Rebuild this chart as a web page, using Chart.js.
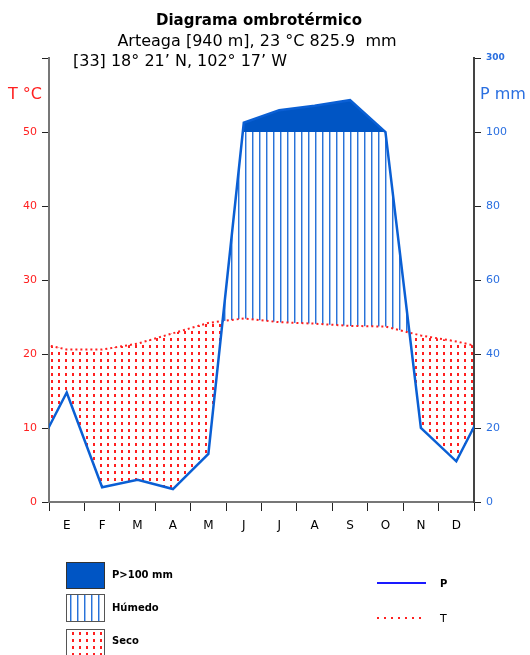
<!DOCTYPE html>
<html>
<head>
<meta charset="utf-8">
<script src="https://cdn.jsdelivr.net/npm/chart.js@4"></script>
<style>
  html, body { margin: 0; padding: 0; background: #fff; }
  canvas { display: block; }
</style>
</head>
<body>
<canvas id="canvas" width="530" height="655"></canvas>
<script>
const MONTHS = ['E', 'F', 'M', 'A', 'M', 'J', 'J', 'A', 'S', 'O', 'N', 'D'];
const TEMP = [20.6, 20.6, 21.4, 22.8, 24.2, 24.8, 24.3, 24.1, 23.8, 23.7, 22.5, 21.7];
const PREC = [29.6, 4.0, 6.0, 3.5, 13.0, 125.0, 159.0, 171.0, 186.0, 100.0, 20.0, 11.0];
const T_TICKS = [0, 10, 20, 30, 40, 50, 60];
const P_TICKS = [0, 20, 40, 60, 80, 100, 300];

const RED = '#ff2020';
const BLUE = '#0a5fd4';
const SOLID = '#0055c4';

// months are plotted at their centre; Dec is repeated before Jan and Jan after Dec
function wrapSeries(values) {
  const pts = values.map((v, i) => ({x: i + 0.5, y: v}));
  pts.unshift({x: -0.5, y: values[values.length - 1]});
  pts.push({x: values.length + 0.5, y: values[0]});
  return pts;
}

// above 100 mm the precipitation axis is compressed ten times
function squash(v) {
  return v <= 100 ? v : 100 + (v - 100) / 10;
}

class PrecipScale extends Chart.LinearScale {
  buildTicks() {
    return P_TICKS.map(v => ({value: v}));
  }
  getPixelForValue(value) {
    return this.getPixelForDecimal(squash(value) / squash(this.max));
  }
  getValueForPixel(pixel) {
    const s = this.getDecimalForPixel(pixel) * squash(this.max);
    return s <= 100 ? s : 100 + (s - 100) * 10;
  }
}
PrecipScale.id = 'precip';
Chart.register(PrecipScale);

function makeStripes() {
  const c = document.createElement('canvas');
  c.width = 7; c.height = 4;
  const g = c.getContext('2d');
  g.fillStyle = '#2a72d8';
  g.fillRect(0, 0, 1, 4);
  g.fillStyle = '#9cc0ee';
  g.fillRect(1, 0, 1, 4);
  return g.createPattern(c, 'repeat');
}

function makeDots() {
  const c = document.createElement('canvas');
  c.width = 7; c.height = 7;
  const g = c.getContext('2d');
  g.fillStyle = RED;
  g.fillRect(2, 2, 2, 3);
  return g.createPattern(c, 'repeat');
}

const stripes = makeStripes();
const dots = makeDots();

const textPlugin = {
  id: 'texts',
  afterDraw(chart) {
    const c = chart.ctx;
    c.save();
    c.textBaseline = 'middle';
    c.fillStyle = '#000';
    c.textAlign = 'center';
    c.font = 'bold 15px "DejaVu Sans"';
    c.fillText('Diagrama ombrotérmico', 259, 21);
    c.font = '16px "DejaVu Sans"';
    c.fillText('Arteaga [940 m], 23 °C 825.9  mm', 257, 42);
    c.textAlign = 'left';
    c.fillText('[33] 18° 21’ N, 102° 17’ W', 73, 62);

    c.fillStyle = RED;
    c.fillText('T °C', 8, 95);
    c.fillStyle = '#2a6fe0';
    c.fillText('P mm', 480, 95);

    // legend
    c.lineWidth = 1;
    c.strokeStyle = '#333';
    c.fillStyle = SOLID;
    c.fillRect(66.5, 562.5, 38, 26);
    c.strokeRect(66.5, 562.5, 38, 26);
    c.fillStyle = stripes;
    c.fillRect(66.5, 594.5, 38, 27);
    c.strokeStyle = '#555';
    c.strokeRect(66.5, 594.5, 38, 27);
    c.fillStyle = dots;
    c.fillRect(66.5, 629.5, 38, 27);
    c.strokeRect(66.5, 629.5, 38, 27);

    c.fillStyle = '#000';
    c.font = 'bold 10px "DejaVu Sans"';
    c.fillText('P>100 mm', 112, 575);
    c.fillText('Húmedo', 112, 608);
    c.fillText('Seco', 112, 641);

    c.strokeStyle = '#1a1aff';
    c.lineWidth = 2;
    c.beginPath();
    c.moveTo(377, 583);
    c.lineTo(426, 583);
    c.stroke();
    c.fillText('P', 440, 584);

    c.strokeStyle = RED;
    c.setLineDash([2, 5]);
    c.beginPath();
    c.moveTo(377, 618);
    c.lineTo(424, 618);
    c.stroke();
    c.font = '11px "DejaVu Sans"';
    c.fillText('T', 440, 619);
    c.restore();
  }
};

const config = {
  type: 'line',
  data: {
    datasets: [
      {
        label: 'P',
        data: wrapSeries(PREC),
        yAxisID: 'yP',
        borderColor: BLUE,
        borderWidth: 2.5,
        pointRadius: 0,
        tension: 0,
        fill: {target: {value: 100}, above: SOLID, below: 'rgba(0,0,0,0)'}
      },
      {
        label: 'T',
        data: wrapSeries(TEMP),
        yAxisID: 'yT',
        borderColor: RED,
        borderWidth: 2,
        borderDash: [2, 3],
        pointRadius: 0,
        tension: 0,
        fill: {target: 0, above: dots, below: stripes}
      }
    ]
  },
  options: {
    responsive: false,
    animation: false,
    devicePixelRatio: 1,
    layout: {
      padding: {top: 58, left: 0, right: 0, bottom: 0}
    },
    plugins: {
      legend: {display: false},
      tooltip: {enabled: false}
    },
    scales: {
      x: {
        type: 'linear',
        position: 'bottom',
        min: 0,
        max: 12,
        afterBuildTicks: function(scale) {
          scale.ticks = Array.from({length: 25}, (_, i) => ({value: i / 2}));
        },
        afterFit: function(scale) {
          scale.height = 153;
        },
        border: {color: '#777', width: 2},
        grid: {
          drawOnChartArea: false,
          tickLength: 9,
          tickColor: function(ctx) {
            return ctx.tick && Number.isInteger(ctx.tick.value) ? '#222' : 'rgba(0,0,0,0)';
          }
        },
        ticks: {
          autoSkip: false,
          maxRotation: 0,
          padding: 8,
          color: '#000',
          font: {family: 'DejaVu Sans', size: 12},
          callback: function(val) {
            return Number.isInteger(val) ? '' : MONTHS[Math.floor(val)];
          }
        }
      },
      yT: {
        type: 'linear',
        position: 'left',
        min: 0,
        max: 60,
        afterBuildTicks: function(scale) {
          scale.ticks = T_TICKS.map(v => ({value: v}));
        },
        afterFit: function(scale) {
          scale.width = 49;
        },
        border: {color: '#777', width: 2},
        grid: {drawOnChartArea: false, tickLength: 7, tickColor: '#222'},
        ticks: {
          color: RED,
          padding: 5,
          font: {family: 'DejaVu Sans', size: 11},
          callback: function(val) {
            return val === 60 ? '' : val;
          }
        }
      },
      yP: {
        type: 'precip',
        position: 'right',
        min: 0,
        max: 300,
        afterFit: function(scale) {
          scale.width = 56;
        },
        border: {color: '#444', width: 2},
        grid: {drawOnChartArea: false, tickLength: 7, tickColor: '#222'},
        ticks: {
          color: '#2a6fe0',
          padding: 5,
          font: function(ctx) {
            if (ctx.tick && ctx.tick.value === 300) {
              return {family: 'DejaVu Sans', size: 9, weight: 'bold'};
            }
            return {family: 'DejaVu Sans', size: 11};
          }
        }
      }
    }
  },
  plugins: [textPlugin]
};

new Chart(document.getElementById('canvas'), config);
</script>
</body>
</html>
